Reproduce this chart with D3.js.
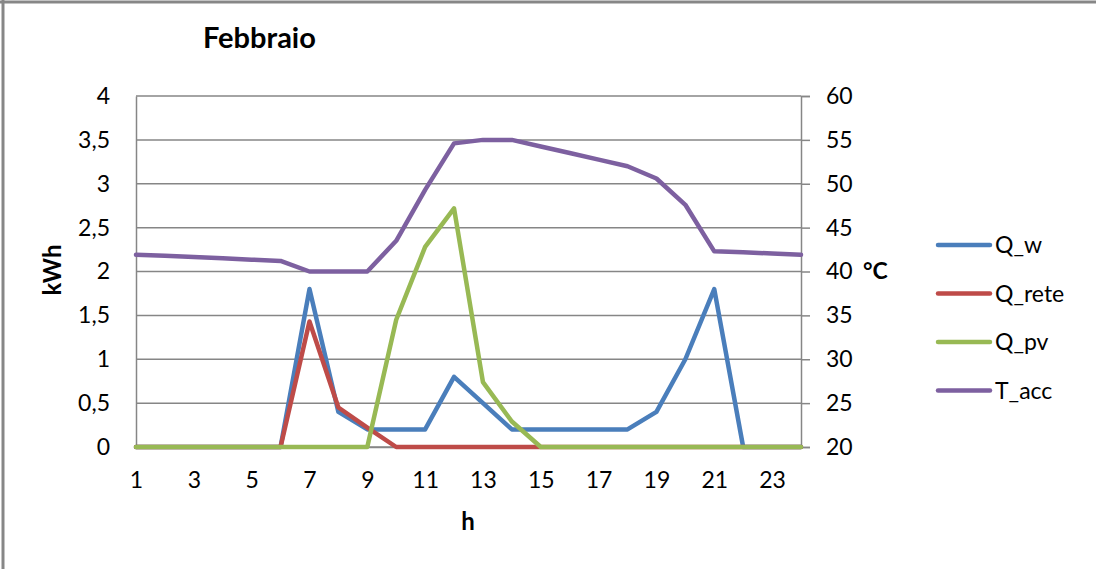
<!DOCTYPE html>
<html>
<head>
<meta charset="utf-8">
<script src="https://cdn.jsdelivr.net/npm/d3@7"></script>
<style>
  html, body { margin: 0; padding: 0; background: #fff; }
  svg { display: block; font-family: Lato, "Open Sans", sans-serif; }
</style>
</head>
<body>
<svg id="chart" width="1096" height="569"></svg>
<script>
// Hours of the day
const hours = d3.range(1, 25);
const xTickLabels = [1, 3, 5, 7, 9, 11, 13, 15, 17, 19, 21, 23];

// Energy series (kWh, left axis)
const qW    = [0, 0, 0, 0, 0, 0, 1.8, 0.4, 0.2, 0.2, 0.2, 0.8, 0.5, 0.2, 0.2, 0.2, 0.2, 0.2, 0.4, 1.0, 1.8, 0, 0, 0];
const qRete = [0, 0, 0, 0, 0, 0, 1.43, 0.45, 0.22, 0, 0, 0, 0, 0, 0, 0, 0, 0, 0, 0, 0, 0, 0, 0];
const qPv   = [0, 0, 0, 0, 0, 0, 0, 0, 0, 1.45, 2.28, 2.72, 0.74, 0.29, 0, 0, 0, 0, 0, 0, 0, 0, 0, 0];

// Storage temperature (°C, right axis)
const tAcc  = [41.9, 41.8, 41.65, 41.5, 41.35, 41.2, 40, 40, 40, 43.5, 49.3, 54.6, 55, 55, 54.25, 53.5, 52.75, 52, 50.6, 47.6, 42.3, 42.2, 42.05, 41.9];

// Axis ticks
const leftTicks  = [0, 0.5, 1, 1.5, 2, 2.5, 3, 3.5, 4];
const rightTicks = [20, 25, 30, 35, 40, 45, 50, 55, 60];

const seriesNames  = ["Q_w", "Q_rete", "Q_pv", "T_acc"];
const seriesColors = ["#4A7EBB", "#BE4B48", "#98B954", "#7D60A0"];

const svg = d3.select("#chart");
const plot = { left: 136, right: 801, top: 96, bottom: 447 };
const gridColor = "#868686";
const tickFont = 23;
const fmt = v => String(v).replace(".", ",");

// Outer frame (top and left edges)
svg.append("line").attr("x1", 0).attr("x2", 1096).attr("y1", 2).attr("y2", 2)
  .attr("stroke", "#878787").attr("stroke-width", 3);
svg.append("line").attr("x1", 3).attr("x2", 3).attr("y1", 0).attr("y2", 569)
  .attr("stroke", "#878787").attr("stroke-width", 3);

const x = d3.scaleLinear().domain([1, 24]).range([plot.left, plot.right]);
const yL = d3.scaleLinear().domain([0, 4]).range([plot.bottom, plot.top]);
const yR = d3.scaleLinear().domain([20, 60]).range([plot.bottom, plot.top]);

// Horizontal gridlines
svg.append("g").selectAll("line").data(leftTicks).join("line")
  .attr("x1", plot.left).attr("x2", plot.right)
  .attr("y1", d => yL(d)).attr("y2", d => yL(d))
  .attr("stroke", gridColor).attr("stroke-width", 1.5);

// Left axis
const gL = svg.append("g").attr("transform", `translate(${plot.left},0)`)
  .call(d3.axisLeft(yL).tickValues(leftTicks).tickSize(0).tickPadding(26).tickFormat(fmt));
gL.select(".domain").attr("stroke", gridColor).attr("stroke-width", 1.5);
gL.selectAll("text").attr("font-size", tickFont).attr("fill", "#000").attr("font-family", "Lato, sans-serif");

// Right axis
const gR = svg.append("g").attr("transform", `translate(${plot.right},0)`)
  .call(d3.axisRight(yR).tickValues(rightTicks).tickSize(9).tickPadding(16));
gR.select(".domain").attr("stroke", gridColor).attr("stroke-width", 1.5);
gR.selectAll("line").attr("stroke", gridColor).attr("stroke-width", 1.5);
gR.selectAll("text").attr("font-size", tickFont).attr("fill", "#000").attr("font-family", "Lato, sans-serif");

// Bottom axis labels
const gB = svg.append("g").attr("transform", `translate(0,${plot.bottom})`)
  .call(d3.axisBottom(x).tickValues(xTickLabels).tickSize(0).tickPadding(25).tickFormat(d3.format("d")));
gB.select(".domain").attr("stroke", gridColor).attr("stroke-width", 1.5);
gB.selectAll("text").attr("font-size", tickFont).attr("fill", "#000").attr("font-family", "Lato, sans-serif");

// Series lines
const lineL = d3.line().x((d, i) => x(hours[i])).y(d => yL(d));
const lineR = d3.line().x((d, i) => x(hours[i])).y(d => yR(d));
const series = [
  { data: qW, line: lineL },
  { data: qRete, line: lineL },
  { data: qPv, line: lineL },
  { data: tAcc, line: lineR }
];
series.forEach((s, i) => {
  svg.append("path").datum(s.data)
    .attr("d", s.line)
    .attr("fill", "none")
    .attr("stroke", seriesColors[i])
    .attr("stroke-width", 4.5)
    .attr("stroke-linejoin", "round")
    .attr("stroke-linecap", "round");
});

// Title and axis titles
svg.append("text").attr("x", 203).attr("y", 48).text("Febbraio")
  .attr("font-size", 29).attr("font-weight", "bold").attr("fill", "#000");
svg.append("text").attr("transform", "translate(61,270) rotate(-90)")
  .attr("text-anchor", "middle").text("kWh")
  .attr("font-size", 24).attr("font-weight", "bold").attr("fill", "#000");
svg.append("text").attr("x", 863).attr("y", 279).text("°C")
  .attr("font-size", 23).attr("font-weight", "bold").attr("fill", "#000");
svg.append("text").attr("x", 468).attr("y", 530).attr("text-anchor", "middle").text("h")
  .attr("font-size", 24).attr("font-weight", "bold").attr("fill", "#000");

// Legend
const legend = svg.append("g");
seriesNames.forEach((name, i) => {
  const ly = 245 + i * 48.5;
  legend.append("line").attr("x1", 938).attr("x2", 990).attr("y1", ly).attr("y2", ly)
    .attr("stroke", seriesColors[i]).attr("stroke-width", 4.5).attr("stroke-linecap", "round");
  legend.append("text").attr("x", 995).attr("y", ly + 8).text(name)
    .attr("font-size", tickFont).attr("fill", "#000");
});
</script>
</body>
</html>
